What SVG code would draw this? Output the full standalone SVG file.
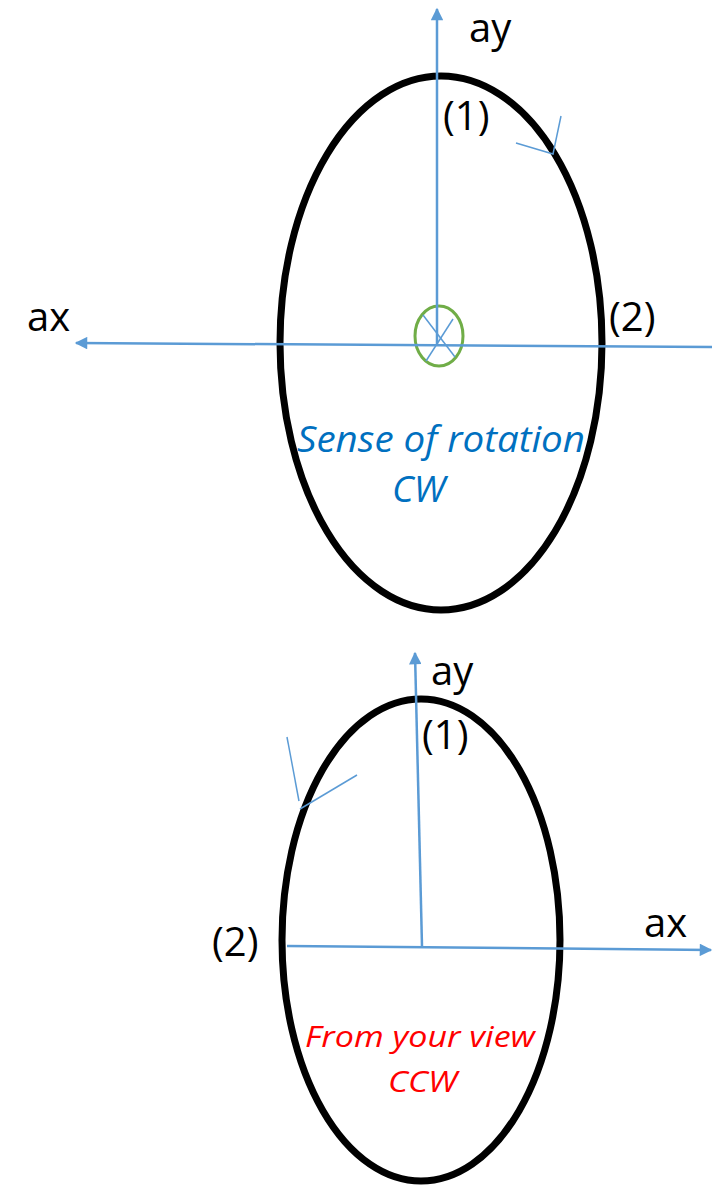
<svg xmlns="http://www.w3.org/2000/svg" width="720" height="1185" viewBox="0 0 720 1185">
<style>
.ell{fill:none;stroke:#000;stroke-width:7}
.ax{fill:none;stroke:#5B9BD5;stroke-width:2.5}
.thin{fill:none;stroke:#5B9BD5;stroke-width:1.5}
.lbl{font-family:"Open Sans","Liberation Sans",sans-serif;font-size:40px;fill:#000}
.note{font-family:"Open Sans","Liberation Sans",sans-serif;font-size:36px;font-style:italic}
.note.red{font-size:30px;fill:#FF0000}
</style>
<defs>
<marker id="arr" viewBox="0 0 10 10" refX="9" refY="5" markerWidth="6" markerHeight="5" markerUnits="strokeWidth" orient="auto">
<path d="M0,0 L10,5 L0,10 z" fill="#5B9BD5"/>
</marker>
</defs>
<rect width="720" height="1185" fill="#fff"/>
<g id="top-ellipse"><ellipse class="ell" cx="441" cy="343" rx="161" ry="267"/></g>
<g id="top-center"><ellipse cx="439" cy="336" rx="24" ry="30" fill="none" stroke="#70AD47" stroke-width="3"/></g>
<g id="bottom-ellipse"><ellipse class="ell" cx="421" cy="940" rx="139" ry="241"/></g>
<g id="connectors">
<line class="ax" x1="712" y1="347" x2="76" y2="343" marker-end="url(#arr)"/>
<line class="ax" x1="437" y1="344" x2="437" y2="9" marker-end="url(#arr)"/>
<line class="thin" x1="423" y1="315" x2="455" y2="357"/>
<line class="thin" x1="453" y1="319" x2="426" y2="361"/>
<polyline class="thin" points="516,143 553,154 561,116"/>
<line class="ax" x1="287" y1="946" x2="711" y2="950" marker-end="url(#arr)"/>
<line class="ax" x1="422" y1="946" x2="415" y2="653" marker-end="url(#arr)"/>
<line class="thin" x1="287" y1="737" x2="299" y2="801"/>
<line class="thin" x1="300" y1="809" x2="357" y2="775"/>
</g>
<g id="labels">
<text class="lbl" x="469" y="42">ay</text>
<text class="lbl" x="443" y="130">(1)</text>
<text class="lbl" x="27" y="331">ax</text>
<text class="lbl" x="609" y="331">(2)</text>
<text class="note" x="297" y="452" fill="#0070C0" textLength="288" lengthAdjust="spacingAndGlyphs">Sense of rotation</text>
<text class="note" x="392" y="502" fill="#0070C0" textLength="53" lengthAdjust="spacingAndGlyphs">CW</text>
<text class="lbl" x="431" y="685">ay</text>
<text class="lbl" x="422" y="749">(1)</text>
<text class="lbl" x="644" y="937">ax</text>
<text class="lbl" x="212" y="956">(2)</text>
<text class="note red" x="305" y="1047" textLength="230" lengthAdjust="spacingAndGlyphs">From your view</text>
<text class="note red" x="388" y="1092" textLength="69" lengthAdjust="spacingAndGlyphs">CCW</text>
</g>
</svg>
